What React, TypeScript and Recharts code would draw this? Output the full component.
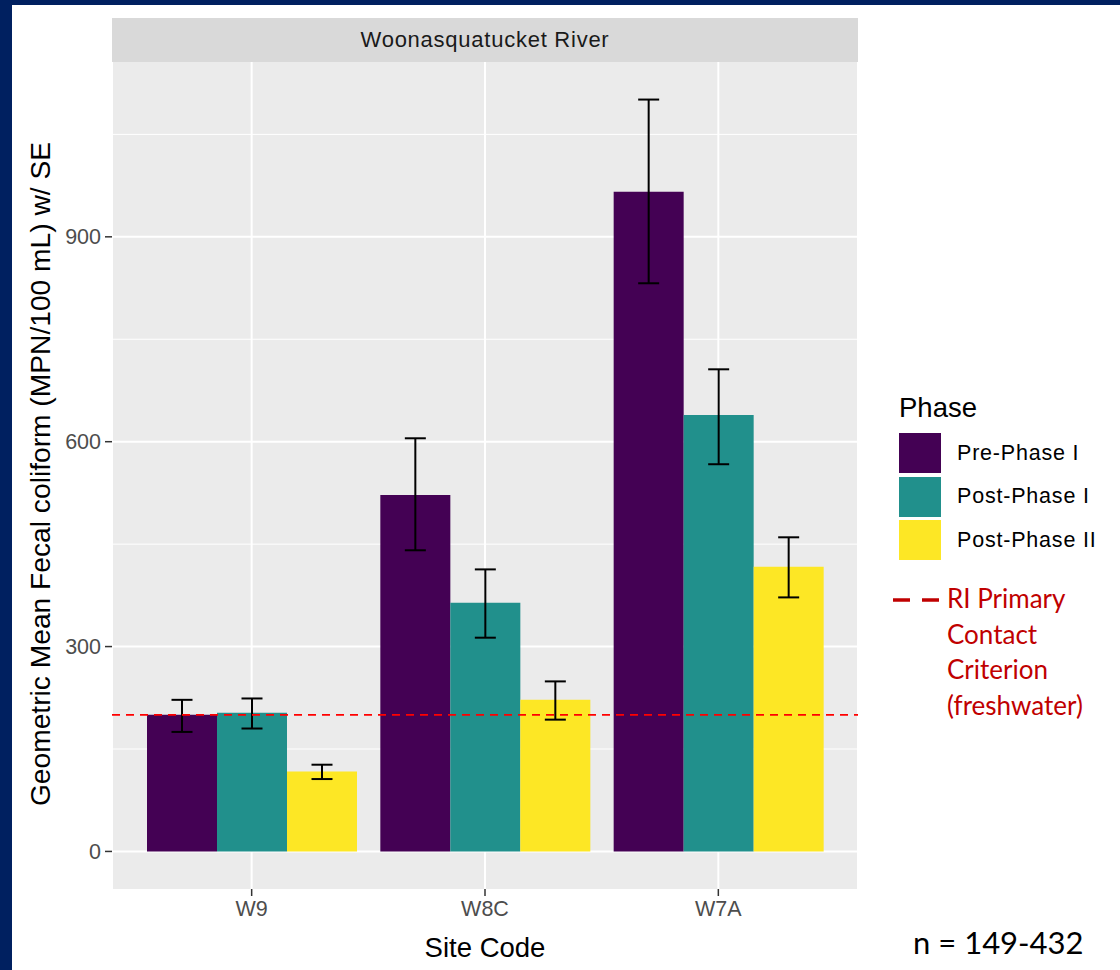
import React from "react";
import {
  BarChart,
  Bar,
  XAxis,
  YAxis,
  CartesianGrid,
  ReferenceLine,
  ErrorBar,
} from "recharts";

// sites on the x axis
const sites = ["W9", "W8C", "W7A"];
const phases = ["Pre-Phase I", "Post-Phase I", "Post-Phase II"];
const phaseColors = ["#440154", "#21908C", "#FDE725"];

// geometric means
const prePhaseI = [200, 522, 966];
const postPhaseI = [203, 364, 639];
const postPhaseII = [117, 222, 417];

// ends of the SE whiskers
const prePhaseILow = [175, 441, 832];
const prePhaseIHigh = [222, 605, 1101];
const postPhaseILow = [180, 313, 567];
const postPhaseIHigh = [224, 413, 706];
const postPhaseIILow = [106, 193, 372];
const postPhaseIIHigh = [127, 249, 460];

const yTicks = [0, 300, 600, 900];
const yMinorTicks = [150, 450, 750, 1050];
const yDomain = [-55, 1156];
const criterion = 200;
const criterionLines = ["RI Primary", "Contact", "Criterion", "(freshwater)"];
const sampleNote = "n = 149-432";

const series = [
  { key: "pre", values: prePhaseI, low: prePhaseILow, high: prePhaseIHigh },
  { key: "post1", values: postPhaseI, low: postPhaseILow, high: postPhaseIHigh },
  { key: "post2", values: postPhaseII, low: postPhaseIILow, high: postPhaseIIHigh },
];

const data = sites.map((site, i) => {
  const row: Record<string, any> = { site };
  series.forEach((s) => {
    row[s.key] = s.values[i];
    row[s.key + "Err"] = [s.values[i] - s.low[i], s.high[i] - s.values[i]];
  });
  return row;
});

const ARIAL = "'Liberation Sans', Arial, sans-serif";
const CALIBRI = "Lato, 'Open Sans', sans-serif";

const YTitle = () => (
  <text
    x={40}
    y={474}
    transform="rotate(-90 40 474)"
    textAnchor="middle"
    dominantBaseline="central"
    fontFamily={ARIAL}
    fontSize={28.2}
    fill="#000"
  >
    Geometric Mean Fecal coliform (MPN/100 mL) w/ SE
  </text>
);

export default function App() {
  return (
    <div
      style={{
        position: "absolute",
        left: 0,
        top: 0,
        width: 1120,
        height: 970,
        background: "#002060",
        overflow: "hidden",
      }}
    >
      <div
        style={{
          position: "absolute",
          left: 12,
          top: 5,
          width: 1108,
          height: 965,
          background: "#fff",
        }}
      />
      <div style={{ position: "absolute", left: 0, top: 0 }}>
        <BarChart
          width={1120}
          height={970}
          data={data}
          margin={{ top: 62, right: 262, left: 0, bottom: 0 }}
          barGap={0}
          barCategoryGap={12}
        >
          <CartesianGrid
            fill="#EBEBEB"
            stroke="#fff"
            strokeWidth={1}
            vertical={false}
            horizontalValues={yMinorTicks}
          />
          <CartesianGrid
            stroke="#fff"
            strokeWidth={2}
            horizontalValues={yTicks}
          />
          <XAxis
            dataKey="site"
            height={81}
            padding={{ left: 23, right: 23 }}
            axisLine={false}
            tickLine={{ stroke: "#333", strokeWidth: 1.5 }}
            tickSize={7}
            tickMargin={5}
            tick={{ fill: "#4D4D4D", fontSize: 21.5, fontFamily: ARIAL }}
            label={{
              value: "Site Code",
              position: "insideBottom",
              offset: 13,
              fill: "#000",
              fontSize: 27.5,
              fontFamily: ARIAL,
            }}
          />
          <YAxis
            width={112}
            domain={yDomain}
            ticks={yTicks}
            allowDataOverflow
            axisLine={false}
            tickLine={{ stroke: "#333", strokeWidth: 1.5 }}
            tickSize={7}
            tickMargin={4}
            tick={{ fill: "#4D4D4D", fontSize: 21.5, fontFamily: ARIAL }}
            label={<YTitle />}
          />
          {series.map((s, i) => (
            <Bar
              key={s.key}
              dataKey={s.key}
              fill={phaseColors[i]}
              isAnimationActive={false}
            >
              <ErrorBar
                dataKey={s.key + "Err"}
                width={10.5}
                stroke="#000"
                strokeWidth={2}
                direction="y"
              />
            </Bar>
          ))}
          <ReferenceLine
            y={criterion}
            stroke="#FF0000"
            strokeWidth={1.8}
            strokeDasharray="8 6"
          />
        </BarChart>
      </div>

      {/* facet strip */}
      <div
        style={{
          position: "absolute",
          left: 112,
          top: 18,
          width: 746,
          height: 44,
          background: "#D9D9D9",
          display: "flex",
          alignItems: "center",
          justifyContent: "center",
          fontFamily: ARIAL,
          fontSize: 22,
          letterSpacing: 0.75,
          color: "#1A1A1A",
        }}
      >
        Woonasquatucket River
      </div>

      {/* phase legend */}
      <div
        style={{
          position: "absolute",
          left: 899,
          top: 390,
          fontFamily: ARIAL,
          fontSize: 27.5,
          color: "#000",
          lineHeight: "36px",
        }}
      >
        Phase
      </div>
      {phases.map((p, i) => (
        <div
          key={p}
          style={{
            position: "absolute",
            left: 899,
            top: 433 + i * 43.5,
            height: 40,
            display: "flex",
            alignItems: "center",
          }}
        >
          <div style={{ width: 42, height: 40, background: phaseColors[i] }} />
          <div
            style={{
              marginLeft: 16,
              fontFamily: ARIAL,
              fontSize: 21.5,
              letterSpacing: 0.8,
              color: "#000",
            }}
          >
            {p}
          </div>
        </div>
      ))}

      {/* criterion legend */}
      <svg
        style={{ position: "absolute", left: 890, top: 594 }}
        width={52}
        height={12}
      >
        <line
          x1={3}
          y1={6}
          x2={49}
          y2={6}
          stroke="#C00000"
          strokeWidth={3.5}
          strokeDasharray="17 12"
        />
      </svg>
      <div
        style={{
          position: "absolute",
          left: 947,
          top: 581,
          fontFamily: CALIBRI,
          fontSize: 26,
          lineHeight: "35.5px",
          color: "#C00000",
        }}
      >
        {criterionLines.map((l) => (
          <div key={l}>{l}</div>
        ))}
      </div>
      <div
        style={{
          position: "absolute",
          left: 913,
          top: 922,
          fontFamily: CALIBRI,
          fontSize: 31,
          lineHeight: "40px",
          color: "#000",
        }}
      >
        {sampleNote}
      </div>
    </div>
  );
}
